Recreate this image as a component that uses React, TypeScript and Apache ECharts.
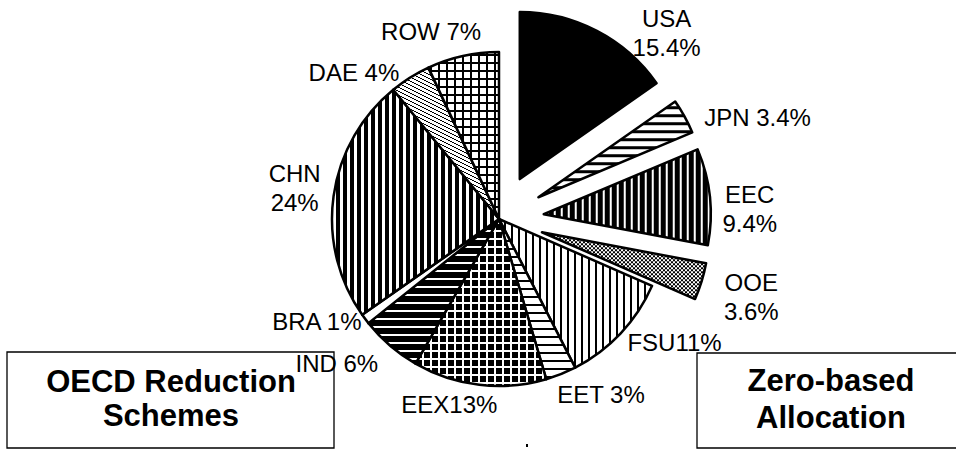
import React, { useEffect, useRef } from "react";
import * as echarts from "echarts";

// ---- data ----
const categories = ["USA", "JPN", "EEC", "OOE", "FSU", "EET", "EEX", "IND", "BRA", "CHN", "DAE", "ROW"];
const shares = [15.4, 3.4, 9.4, 3.6, 11, 3, 13, 6, 1, 24, 4, 7];
const shareLabels = ["15.4%", "3.4%", "9.4%", "3.6%", "11%", "3%", "13%", "6%", "1%", "24%", "4%", "7%"];
const labelJoin = ["\n", " ", "\n", "\n", "", " ", "", " ", " ", "\n", " ", " "];
const explodedSlices = ["USA", "JPN", "EEC", "OOE"];
const boxTitles = ["OECD Reduction\nSchemes", "Zero-based\nAllocation"];

// ---- styles ----
const FONT = "'Liberation Sans', Arial, sans-serif";

type Painter = (x: number, y: number) => boolean;
function makePattern(w: number, h: number, isBlack: Painter) {
  const c = document.createElement("canvas");
  c.width = w;
  c.height = h;
  const ctx = c.getContext("2d")!;
  ctx.fillStyle = "#fff";
  ctx.fillRect(0, 0, w, h);
  ctx.fillStyle = "#000";
  for (let y = 0; y < h; y++) {
    for (let x = 0; x < w; x++) {
      if (isBlack(x, y)) ctx.fillRect(x, y, 1, 1);
    }
  }
  return { image: c, repeat: "repeat", imageWidth: w, imageHeight: h };
}
const vStripes = (black: number, white: number) =>
  makePattern(black + white, 8, (x) => x < black);
const hStripes = (black: number, white: number) =>
  makePattern(8, black + white, (_x, y) => y < black);
const blackCells = (cell: number, line: number) =>
  makePattern(cell + line, cell + line, (x, y) => x < cell && y < cell);
const blackLines = (cell: number, line: number) =>
  makePattern(cell + line, cell + line, (x, y) => x >= cell || y >= cell);
const checker = (s: number) =>
  makePattern(2 * s, 2 * s, (x, y) => (Math.floor(x / s) + Math.floor(y / s)) % 2 === 0);
const diagonal = () =>
  makePattern(8, 4, (x, y) => {
    const d = (((y - Math.floor(x / 2)) % 4) + 4) % 4;
    return d === 0;
  });

function sliceFills(): Record<string, any> {
  return {
    USA: "#000",
    JPN: hStripes(3, 5),
    EEC: vStripes(5, 2),
    OOE: checker(2),
    FSU: vStripes(2, 5),
    EET: hStripes(2, 6),
    EEX: blackCells(6, 2),
    IND: hStripes(6, 2),
    BRA: "#fff",
    CHN: vStripes(4, 3),
    DAE: diagonal(),
    ROW: blackLines(6, 2),
  };
}
// label nudges from ECharts' outside-label anchor
const labelNudge: [number, number][] = [
  [61, 9], [61, 5], [27, 13], [37, 13], [43, 4], [32, 13],
  [-24, 12], [-43, 12], [-37, -2], [-26, -7], [-47, 2], [-25, -17],
];

export default function App() {
  const ref = useRef<HTMLDivElement>(null);
  useEffect(() => {
    if (!ref.current) return;
    const chart = echarts.init(ref.current, null, { renderer: "svg" });
    const fills = sliceFills();
    const data = categories.map((name, i) => ({
      name,
      value: shares[i],
      selected: explodedSlices.includes(name),
      itemStyle: { color: fills[name], borderColor: "#000", borderWidth: 2.5 },
    }));
    chart.setOption({
      animation: false,
      backgroundColor: "#fff",
      series: [
        {
          type: "pie",
          center: [499, 219],
          radius: 167,
          startAngle: 90,
          clockwise: true,
          selectedMode: "multiple",
          selectedOffset: 45,
          avoidLabelOverlap: false,
          emphasis: { disabled: true },
          label: {
            show: true,
            position: "outside",
            fontFamily: FONT,
            fontSize: 24,
            lineHeight: 29,
            color: "#000",
            formatter: (p: any) => `${p.name}${labelJoin[p.dataIndex]}${shareLabels[p.dataIndex]}`,
          },
          labelLine: { show: false, length: 8, length2: 0 },
          labelLayout: (p: any) => ({
            dx: labelNudge[p.dataIndex][0],
            dy: labelNudge[p.dataIndex][1],
            align: "center",
            verticalAlign: "middle",
          }),
          data,
        },
      ],
      graphic: [
        {
          type: "rect", z: 0,
          shape: { x: 7, y: 352, width: 327, height: 96 },
          style: { fill: "none", stroke: "#000", lineWidth: 1.3 },
        },
        {
          type: "rect", z: 0,
          shape: { x: 697, y: 353, width: 300, height: 95 },
          style: { fill: "none", stroke: "#000", lineWidth: 1.3 },
        },
        {
          type: "text", x: 171, y: 398, z: 10,
          style: {
            text: boxTitles[0], fontFamily: FONT, fontSize: 31, fontWeight: "bold",
            lineHeight: 34, align: "center", verticalAlign: "middle", fill: "#000",
          },
        },
        {
          type: "text", x: 831, y: 399, z: 10,
          style: {
            text: boxTitles[1], fontFamily: FONT, fontSize: 31, fontWeight: "bold",
            lineHeight: 37, align: "center", verticalAlign: "middle", fill: "#000",
          },
        },
        {
          type: "rect", z: 10,
          shape: { x: 526, y: 444, width: 2, height: 3 },
          style: { fill: "#000" },
        },
      ],
    });
    return () => chart.dispose();
  }, []);
  return (
    <div
      ref={ref}
      style={{ position: "fixed", left: 0, top: 0, width: 956, height: 449 }}
    />
  );
}
